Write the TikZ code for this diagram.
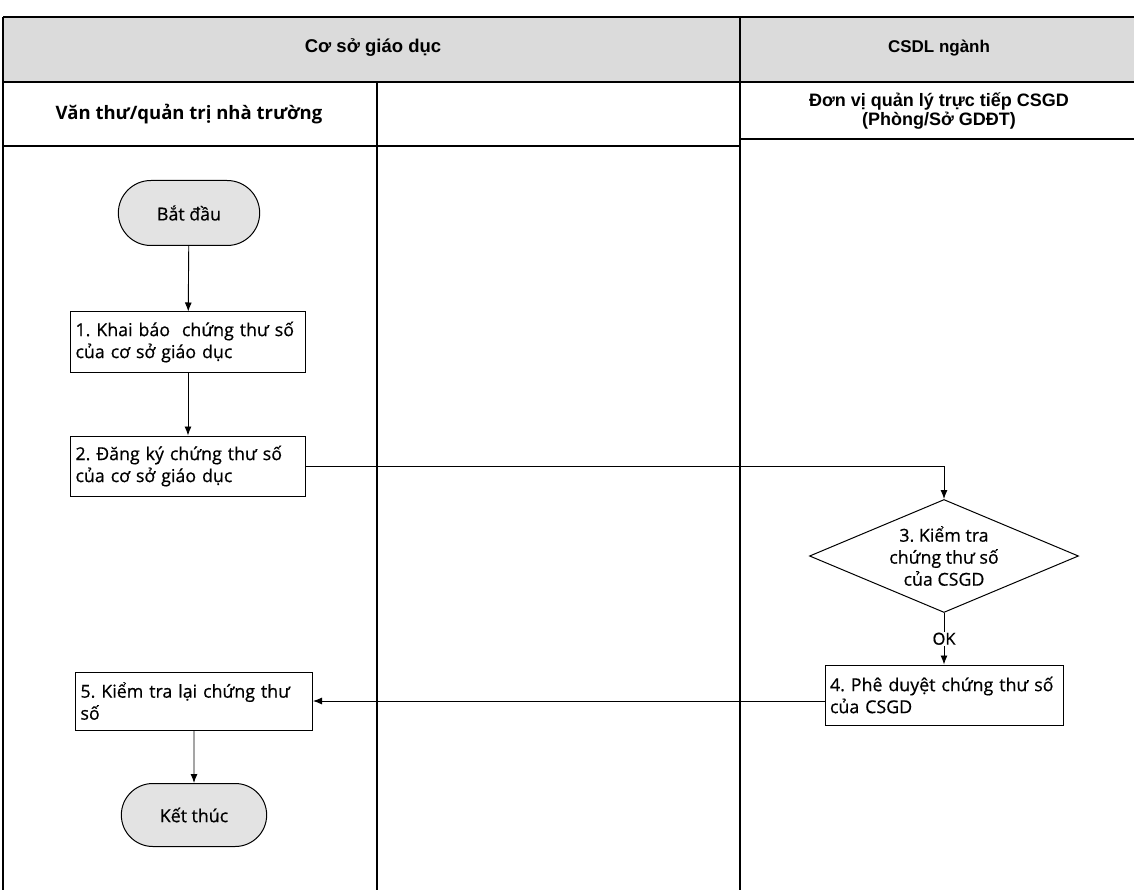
\documentclass[tikz,border=0pt]{standalone}
\usepackage{fontspec}
\setmainfont{Open Sans}[FakeBold=0.6]
\newfontfamily\arialfont{Liberation Sans}
\newfontfamily\lanefont{Open Sans}
\usetikzlibrary{shapes.geometric,shapes.misc,arrows.meta}
\frenchspacing

\begin{document}
\begin{tikzpicture}[x=1pt,y=-1pt]
        \tikzstyle{stepbox}=[draw=black,line width=1pt,fill=white,minimum width=235pt,minimum height=60pt,text width=225pt,inner sep=5pt,align=left,font=\fontsize{17.8}{22}\selectfont]
        \tikzstyle{term}=[rounded rectangle,draw=black,line width=1pt,fill=gray!22,minimum width=148pt,minimum height=65pt,font=\fontsize{17.8}{20}\selectfont]
        \tikzstyle{check}=[diamond,aspect=2.38,draw=black,line width=1pt,fill=white,inner sep=0pt,minimum width=269pt,minimum height=113pt,align=center,font=\fontsize{17.8}{22}\selectfont]
        \tikzstyle{flow}=[-{Latex[length=9pt,width=7pt]},line width=0.9pt]
        \tikzstyle{lane}=[line width=1.3pt]
        \tikzstyle{hdr}=[font=\arialfont\bfseries\fontsize{18.5}{20}\selectfont]
        \useasboundingbox (0,0) rectangle (1134,890);

        % swimlane frame
        \fill[gray!28] (3,17) rectangle (1134,82);
        \draw[lane] (3,17) -- (1134,17);
        \draw[lane] (3,82) -- (1134,82);
        \draw[lane] (3,146) -- (740,146);
        \draw[lane] (740,139) -- (1134,139);
        \draw[lane] (3,17) -- (3,890);
        \draw[lane] (377,82) -- (377,890);
        \draw[lane] (740,17) -- (740,890);

        \node[hdr] (csgd) at (373,48) {Cơ sở giáo dục};
        \node[hdr,font=\arialfont\bfseries\fontsize{17}{20}\selectfont] (csdl) at (939,48) {CSDL ngành};
        \node[font=\lanefont\bfseries\fontsize{18.5}{20}\selectfont] (vanthu) at (189,114) {Văn thư/quản trị nhà trường};
        \node[font=\arialfont\bfseries\fontsize{18}{19}\selectfont,align=center] (donvi) at (939,111) {Đơn vị quản lý trực tiếp CSGD\\(Phòng/Sở GDĐT)};

        % steps
        \node[term] (batdau) at (189,213) {Bắt đầu};
        \node[stepbox] (khaibao) at (188,342) {1. Khai báo\ \ chứng thư số\\của cơ sở giáo dục};
        \node[stepbox] (dangky) at (188,466) {2. Đăng ký chứng thư số\\của cơ sở giáo dục};
        \node[check] (kiemtra) at (944,556) {3. Kiểm tra\\chứng thư số\\của CSGD};
        \node[stepbox,minimum width=238pt,text width=228pt] (pheduyet) at (944,695) {4. Phê duyệt chứng thư số\\của CSGD};
        \node[stepbox,minimum width=237pt,text width=227pt,minimum height=58pt] (kiemtralai) at (194,701) {5. Kiểm tra lại chứng thư\\số};
        \node[term,minimum width=152pt,minimum height=63pt] (ketthuc) at (194,815) {Kết thúc};

        \draw[flow] (batdau) -- (khaibao);
        \draw[flow] (khaibao) -- (dangky);
        \draw[flow] (dangky.east) -| (kiemtra.north);
        \draw[flow] (kiemtra) -- node[fill=white,inner sep=1pt,font=\fontsize{16.5}{18}\selectfont] {OK} (pheduyet);
        \draw[flow] (pheduyet.west |- kiemtralai.east) -- (kiemtralai.east);
        \draw[flow] (kiemtralai) -- (ketthuc);
\end{tikzpicture}
\end{document}
